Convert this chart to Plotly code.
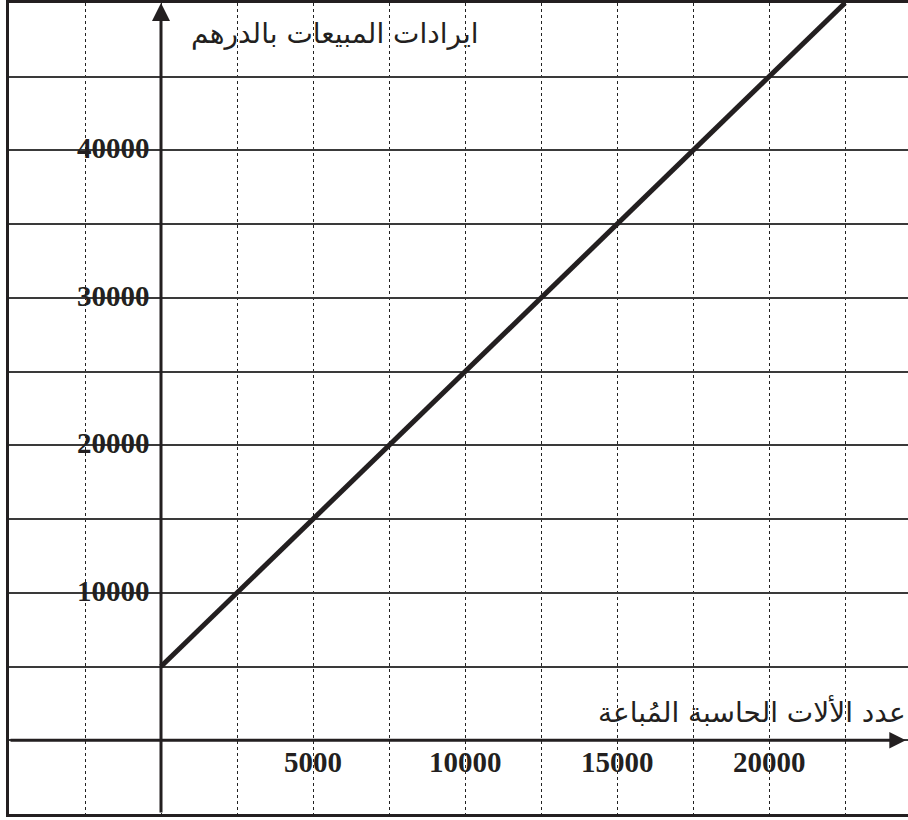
import plotly.graph_objects as go

# sales revenue line: y = 2x + 5000
units_sold = [0, 22500]
revenue = [5000, 50000]

x_tick_vals = [5000, 10000, 15000, 20000]
y_tick_vals = [10000, 20000, 30000, 40000]

y_title = "ايرادات المبيعات بالدرهم"
x_title = "عدد الألات الحاسبة المُباعة"

ink = "#231f20"

fig = go.Figure()

fig.add_trace(go.Scatter(
    x=units_sold, y=revenue, mode="lines",
    line=dict(color=ink, width=5), hoverinfo="skip"))

annotations = []
# axes with arrows
annotations.append(dict(x=24500, y=0, xref="x", yref="y", ax=-5000, ay=0,
                        axref="x", ayref="y", showarrow=True, arrowhead=2,
                        arrowsize=1.1, arrowwidth=3, arrowcolor=ink, text="", standoff=0))
annotations.append(dict(x=0, y=50000, xref="x", yref="y", ax=0, ay=-5000,
                        axref="x", ayref="y", showarrow=True, arrowhead=2,
                        arrowsize=1.2, arrowwidth=3, arrowcolor=ink, text="", standoff=0))

tick_font = dict(family="Liberation Serif", size=29, color=ink)
for v in x_tick_vals:
    annotations.append(dict(x=v, y=0, xref="x", yref="y", text="<b>%d</b>" % v,
                            showarrow=False, yanchor="middle", yshift=-22, font=tick_font))
for v in y_tick_vals:
    annotations.append(dict(x=0, y=v, xref="x", yref="y", text="<b>%d</b>" % v,
                            showarrow=False, xanchor="right", xshift=-9, yshift=2,
                            font=tick_font))

title_font = dict(family="DejaVu Sans", size=28, color=ink)
annotations.append(dict(x=0.3626, y=0.963, xref="paper", yref="paper", text=y_title,
                        showarrow=False, xanchor="center", yanchor="middle", font=title_font))
annotations.append(dict(x=0.8265, y=0.127, xref="paper", yref="paper", text=x_title,
                        showarrow=False, xanchor="center", yanchor="middle", font=title_font))

fig.update_layout(
    width=908, height=820,
    margin=dict(l=9, r=0, t=3, b=6),
    paper_bgcolor="white", plot_bgcolor="white",
    showlegend=False,
    annotations=annotations,
    xaxis=dict(range=[-5000, 24572], tick0=0, dtick=2500, showgrid=True,
               gridcolor="#222", gridwidth=1, griddash="dot",
               showticklabels=False, zeroline=False,
               showline=True, mirror=True, linecolor=ink, linewidth=3),
    yaxis=dict(range=[-5000, 50000], tick0=0, dtick=5000, showgrid=True,
               gridcolor="#3a3a3a", gridwidth=2,
               showticklabels=False, zeroline=False,
               showline=True, linecolor=ink, linewidth=3),
)

# the page's default body margin would push the figure 8px off the window
fig.write_html("out.html", config={"displayModeBar": False},
               post_script="document.body.style.margin='0px';")
